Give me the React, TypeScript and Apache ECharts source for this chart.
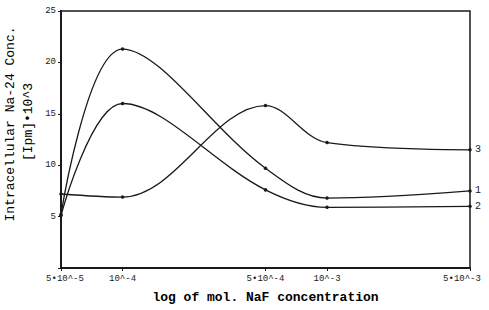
import React, { useEffect, useRef } from "react";
import * as echarts from "echarts";

const concentrations = [5e-5, 1e-4, 5e-4, 1e-3, 5e-3];
const tickLabels = ["5•10^-5", "10^-4", "5•10^-4", "10^-3", "5•10^-3"];
const series1 = [5.2, 21.3, 9.7, 6.8, 7.5];
const series2 = [5.1, 16.0, 7.6, 5.9, 6.0];
const series3 = [7.2, 6.9, 15.8, 12.2, 11.5];
const seriesNames = ["1", "2", "3"];

const FONT = "'Liberation Mono', 'DejaVu Sans Mono', monospace";
const INK = "#1a1a1a";

export default function App() {
  const ref = useRef<HTMLDivElement>(null);
  useEffect(() => {
    if (!ref.current) return;
    const chart = echarts.init(ref.current, undefined, { renderer: "svg" });
    const logX = concentrations.map((c) => Math.log10(c));
    const mk = (vals: number[], name: string) => ({
      type: "line",
      name,
      data: vals.map((v, i) => [logX[i], v]),
      smooth: 0.35,
      symbol: "circle",
      symbolSize: 3.5,
      itemStyle: { color: INK },
      lineStyle: { color: INK, width: 1.3 },
      endLabel: {
        show: true,
        formatter: name,
        distance: 5,
        fontFamily: FONT,
        fontSize: 10,
        color: INK,
      },
    });
    const labelStyle = { fontFamily: FONT, fontSize: 9, color: INK };
    chart.setOption({
      animation: false,
      backgroundColor: "#ffffff",
      grid: {
        left: 61,
        right: 19,
        top: 11,
        bottom: 42,
        show: true,
        borderColor: INK,
        borderWidth: 1.5,
        backgroundColor: "transparent",
      },
      xAxis: {
        type: "value",
        min: logX[0],
        max: logX[logX.length - 1],
        name: "log of mol. NaF concentration",
        nameLocation: "middle",
        nameGap: 23,
        nameTextStyle: { fontFamily: FONT, fontSize: 13, color: "#000", fontWeight: "bold" },
        axisLine: { show: true, lineStyle: { color: INK, width: 2 } },
        axisTick: { show: true, length: 3, customValues: logX, lineStyle: { color: INK } },
        splitLine: { show: false },
        axisLabel: {
          customValues: logX,
          ...labelStyle,
          margin: 6,
          rich: {
            first: { ...labelStyle, padding: [0, 0, 0, 8] },
            mid: { ...labelStyle },
            last: { ...labelStyle, padding: [0, 16, 0, 0] },
          },
          formatter: (v: number) => {
            let best = 0;
            logX.forEach((x, i) => {
              if (Math.abs(x - v) < Math.abs(logX[best] - v)) best = i;
            });
            const key = best === 0 ? "first" : best === logX.length - 1 ? "last" : "mid";
            return `{${key}|${tickLabels[best]}}`;
          },
        },
      },
      yAxis: {
        type: "value",
        min: 0,
        max: 25,
        interval: 5,
        axisLine: { show: true, lineStyle: { color: INK, width: 2 } },
        axisTick: { show: true, length: 3, lineStyle: { color: INK } },
        splitLine: { show: false },
        axisLabel: {
          ...labelStyle,
          margin: 5,
          formatter: (v: number) => (v === 0 ? "" : String(v)),
        },
      },
      graphic: [
        {
          type: "text",
          x: 10,
          y: 124,
          rotation: Math.PI / 2,
          style: {
            text: "Intracellular Na-24 Conc.",
            fontFamily: FONT,
            fontSize: 13,
            fill: "#000",
            textAlign: "center",
            textVerticalAlign: "middle",
          },
        },
        {
          type: "text",
          x: 28,
          y: 122,
          rotation: Math.PI / 2,
          style: {
            text: "[Ipm]•10^3",
            fontFamily: FONT,
            fontSize: 13,
            fill: "#000",
            textAlign: "center",
            textVerticalAlign: "middle",
          },
        },
      ],
      series: [
        mk(series1, seriesNames[0]),
        mk(series2, seriesNames[1]),
        mk(series3, seriesNames[2]),
      ],
    });
    return () => chart.dispose();
  }, []);
  return <div ref={ref} style={{ width: 489, height: 310, position: "absolute", left: 0, top: 0 }} />;
}
